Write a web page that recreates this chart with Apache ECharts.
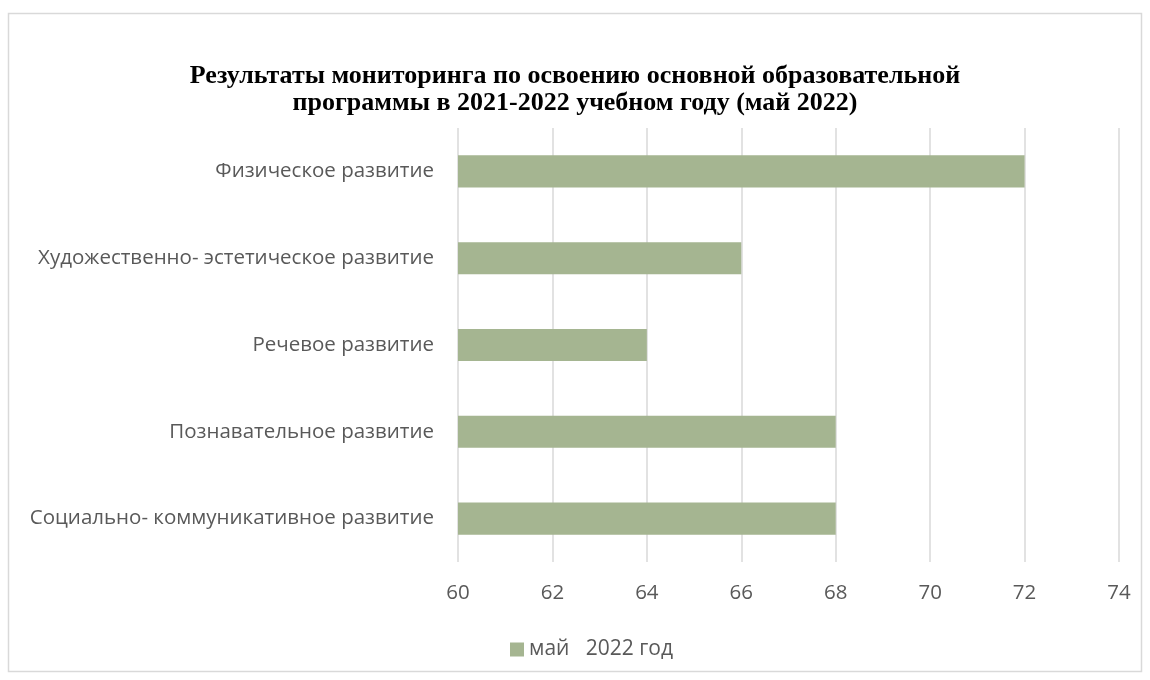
<!DOCTYPE html>
<html>
<head>
<meta charset="utf-8">
<script src="https://cdn.jsdelivr.net/npm/echarts@6/dist/echarts.min.js"></script>
<style>
html,body{margin:0;padding:0;background:#fff;}
#c{width:1150px;height:680px;}
</style>
</head>
<body>
<div id="c"></div>
<script>
const categories = [
  'Социально- коммуникативное развитие',
  'Познавательное развитие',
  'Речевое развитие',
  'Художественно- эстетическое развитие',
  'Физическое развитие'
];
const seriesName = 'май   2022 год';
const values = [68, 68, 64, 66, 72];
const axisMin = 60, axisMax = 74, axisStep = 2;

const chart = echarts.init(document.getElementById('c'));
chart.setOption({
  animation: false,
  backgroundColor: '#fff',
  graphic: [{
    type: 'rect',
    shape: { x: 8.5, y: 13.5, width: 1133, height: 658 },
    style: { fill: 'none', stroke: '#d9d9d9', lineWidth: 1.5 },
    silent: true
  }],
  title: {
    text: 'Результаты мониторинга по освоению основной образовательной\nпрограммы в 2021-2022 учебном году (май 2022)',
    left: 'center',
    top: 58,
    textStyle: {
      fontFamily: 'Liberation Serif',
      fontWeight: 'bold',
      fontSize: 26,
      lineHeight: 27,
      color: '#000'
    }
  },
  legend: {
    bottom: 15,
    left: 505,
    itemWidth: 14,
    itemHeight: 14,
    icon: 'rect',
    itemGap: 10,
    itemTextGap: 6,
    textStyle: { fontFamily: 'Open Sans', fontSize: 21, color: '#595959' },
    data: [seriesName]
  },
  grid: { left: 458, right: 31, top: 128, bottom: 118, containLabel: false },
  xAxis: {
    type: 'value',
    min: axisMin, max: axisMax, interval: axisStep,
    axisLine: { show: false },
    axisTick: { show: false },
    splitLine: { show: true, lineStyle: { color: '#d9d9d9', width: 1.5 } },
    axisLabel: { fontFamily: 'Open Sans', fontSize: 20.5, color: '#595959', margin: 21 }
  },
  yAxis: {
    type: 'category',
    data: categories,
    axisLine: { show: false },
    axisTick: { show: false },
    axisLabel: { fontFamily: 'Open Sans', fontSize: 20.5, color: '#595959', margin: 24 }
  },
  series: [{
    name: seriesName,
    type: 'bar',
    data: values,
    barWidth: '37%',
    itemStyle: { color: '#a5b591' }
  }]
});
</script>
</body>
</html>
